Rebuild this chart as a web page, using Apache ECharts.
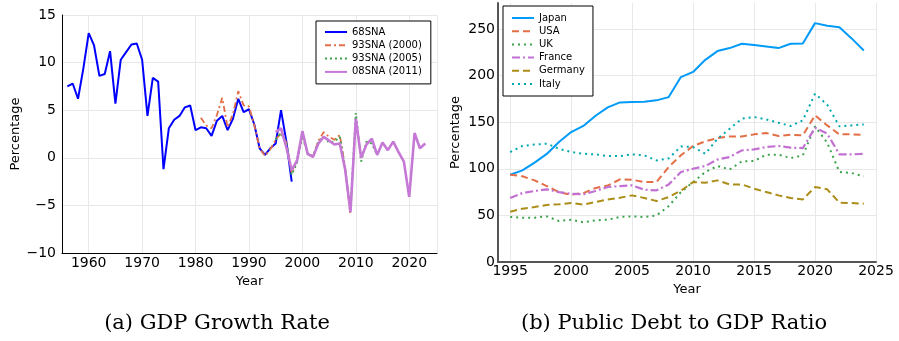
<!DOCTYPE html>
<html>
<head>
<meta charset="utf-8">
<script src="https://cdn.jsdelivr.net/npm/echarts@6/dist/echarts.min.js"></script>
<style>
html,body{margin:0;padding:0;background:#fff;}
#c{width:899px;height:341px;}
</style>
</head>
<body>
<div id="c"></div>
<script>
// ---- Left chart: GDP growth rate (%) ----
const gdpStart = { sna68: 1956, sna93a: 1981, sna93b: 1995, sna08: 1995 };
const sna68 = [7.5, 7.8, 6.2, 9.4, 13.1, 11.8, 8.6, 8.8, 11.2, 5.7, 10.3, 11.1, 11.9, 12.0, 10.3, 4.4, 8.4, 8.0, -1.2, 3.1, 4.0, 4.4, 5.3, 5.5, 2.9, 3.2, 3.1, 2.3, 3.9, 4.4, 2.9, 4.1, 6.2, 4.8, 5.1, 3.5, 1.0, 0.3, 1.0, 1.5, 5.0, 1.7, -2.5];
const sna93a = [4.2, 3.4, 3.1, 4.5, 6.3, 3.2, 4.6, 7.0, 5.5, 5.4, 3.4, 1.0, 0.2, 0.9, 1.9, 2.6, 1.6, -1.6, -0.2, 2.6, 0.4, 0.1, 1.8, 2.7, 2.2, 1.9, 2.4, -1.0, -6.1];
const sna93b = [1.9, 2.6, 1.6, -1.8, -0.5, 2.3, 0.4, 0.2, 1.7, 2.2, 1.6, 1.7, 2.2, -1.1, -5.5, 4.7, -0.4, 1.7, 1.5, 0.3];
const sna08 = [2.7, 3.1, 1.1, -1.3, -0.3, 2.8, 0.4, 0.1, 1.5, 2.2, 1.8, 1.4, 1.5, -1.2, -5.7, 4.1, 0.0, 1.4, 2.0, 0.3, 1.6, 0.8, 1.7, 0.6, -0.4, -4.1, 2.6, 1.0, 1.5];
const gdpNames = ['68SNA', '93SNA (2000)', '93SNA (2005)', '08SNA (2011)'];

// ---- Right chart: public debt to GDP ratio (%) ----
const debtStart = 1995;
const japan = [93.7, 98.4, 106.6, 116, 128.8, 139.5, 146, 157, 166, 171.3, 171.7, 172, 173.5, 177, 198.5, 204, 217, 226.4, 229.6, 234.3, 233, 231.4, 229.6, 234.3, 234.6, 256.4, 253.6, 252, 240, 227];
const usa = [93.7, 92, 87.6, 81.5, 75, 72.2, 74, 79.4, 82, 88.7, 88.3, 85.8, 85.8, 102, 114.5, 124.5, 129.5, 133, 134.8, 134.8, 137, 138.4, 135.2, 136.6, 136, 157.4, 146.6, 137, 137, 136.3];
const uk = [48.3, 47.6, 47.6, 49, 44, 45.4, 42.6, 44.7, 45.4, 48.3, 49, 48.3, 50, 60, 75, 85.8, 96.6, 103, 99.4, 108, 108.4, 115.2, 115.2, 111.6, 114.4, 145.6, 128, 96.6, 95.5, 92];
const france = [68.7, 74, 76.2, 78, 75, 73.3, 72.6, 76.2, 80.5, 81.5, 82.3, 77.6, 76.9, 83.3, 96.6, 100.1, 103, 110, 112.7, 119.8, 120.9, 123.4, 124.5, 122.7, 122.3, 144.1, 137.7, 115.5, 115.5, 116.2];
const germany = [54, 57.2, 59, 61.2, 61.9, 63.3, 61.5, 64.4, 67.2, 69, 71.5, 68.7, 65.5, 69.7, 76.5, 85.8, 85.1, 87.6, 83.3, 83.3, 78.7, 75.1, 71.5, 68.7, 67.2, 80.5, 78, 63.7, 63.3, 62.6];
const italy = [118, 124.5, 126, 127, 121.6, 118, 116.2, 115.5, 113.7, 113.7, 115.5, 114.4, 109, 111.2, 124, 123.4, 116.2, 132.3, 143, 153.8, 155.6, 153, 149.5, 146, 152, 180.6, 168.8, 145.6, 146.6, 147.7];
const debtNames = ['Japan', 'USA', 'UK', 'France', 'Germany', 'Italy'];

const captions = ['(a) GDP Growth Rate', '(b) Public Debt to GDP Ratio'];

function pairs(start, arr) { return arr.map((v, i) => [start + i, v]); }

const FONT = 'DejaVu Sans';
const chart = echarts.init(document.getElementById('c'), null, { renderer: 'canvas' });

function line(name, data, xi, color, width, type) {
  return {
    name, type: 'line', xAxisIndex: xi, yAxisIndex: xi, data,
    symbol: 'none', smooth: false, animation: false,
    lineStyle: { color, width, type }, itemStyle: { color }
  };
}

const splitLine = { show: true, lineStyle: { color: '#e8e8e8', width: 1 } };

const legendBase = {
  orient: 'vertical', itemWidth: 22, itemHeight: 12,
  borderColor: '#000', borderWidth: 1, backgroundColor: '#fff',
  itemStyle: { opacity: 0 },
  textStyle: { fontFamily: FONT, fontSize: 10, color: '#000' }
};

chart.setOption({
  animation: false,
  grid: [
    { left: 62, top: 15, right: 462, bottom: 88 },
    { left: 498, top: 3, right: 23, bottom: 79 }
  ],
  xAxis: [
    { type: 'value', gridIndex: 0, min: 1955, max: 2025.2, splitNumber: 7,
      name: 'Year', nameLocation: 'middle', nameGap: 21,
      nameTextStyle: { fontFamily: FONT, fontSize: 13, color: '#000' },
      axisLine: { show: true, onZero: false, lineStyle: { color: '#000', width: 1 } },
      axisTick: { show: false },
      axisLabel: { fontFamily: FONT, fontSize: 14, color: '#000', margin: 3,
        formatter: v => (v % 10 === 0 ? String(v) : ''), showMinLabel: false, showMaxLabel: false },
      splitLine },
    { type: 'value', gridIndex: 1, min: 1994, max: 2025, splitNumber: 6,
      name: 'Year', nameLocation: 'middle', nameGap: 21,
      nameTextStyle: { fontFamily: FONT, fontSize: 13, color: '#000' },
      axisLine: { show: true, onZero: false, lineStyle: { color: '#555', width: 2 } },
      axisTick: { show: false },
      axisLabel: { fontFamily: FONT, fontSize: 14, color: '#000', margin: 2,
        formatter: v => (v % 5 === 0 ? String(v) : ''), showMinLabel: false },
      splitLine }
  ],
  yAxis: [
    { type: 'value', gridIndex: 0, min: -10, max: 15, interval: 5,
      name: 'Percentage', nameLocation: 'middle', nameGap: 40,
      nameTextStyle: { fontFamily: FONT, fontSize: 13, color: '#000' },
      axisLine: { show: true, onZero: false, lineStyle: { color: '#000', width: 1 } },
      axisTick: { show: false },
      axisLabel: { fontFamily: FONT, fontSize: 14, color: '#000', margin: 6,
        formatter: v => (v < 0 ? '\u2212' + Math.abs(v) : String(v)) },
      splitLine },
    { type: 'value', gridIndex: 1, min: 0, max: 278, interval: 50,
      name: 'Percentage', nameLocation: 'middle', nameGap: 36,
      nameTextStyle: { fontFamily: FONT, fontSize: 13, color: '#000' },
      axisLine: { show: true, onZero: false, lineStyle: { color: '#555', width: 2 } },
      axisTick: { show: false },
      axisLabel: { fontFamily: FONT, fontSize: 14, color: '#000', margin: 3,
        formatter: v => (v % 50 === 0 ? String(v) : ''), showMaxLabel: false },
      splitLine: { show: true, showMaxLine: false, lineStyle: { color: '#e8e8e8', width: 1 } } }
  ],
  legend: [
    Object.assign({}, legendBase, { data: gdpNames, left: 316, top: 21,
      padding: [6, 9, 7, 8], itemGap: 3.3 }),
    Object.assign({}, legendBase, { data: debtNames, left: 503, top: 6,
      padding: [7, 8, 7, 8], itemGap: 3.2 })
  ],
  series: [
    line(gdpNames[0], pairs(gdpStart.sna68, sna68), 0, '#0000ff', 2, 'solid'),
    line(gdpNames[1], pairs(gdpStart.sna93a, sna93a), 0, '#e26f46', 1.8, [6, 3, 2, 3]),
    line(gdpNames[2], pairs(gdpStart.sna93b, sna93b), 0, '#3da44d', 2, [2, 3]),
    line(gdpNames[3], pairs(gdpStart.sna08, sna08), 0, '#c678d6', 2.6, 'solid'),
    line(debtNames[0], pairs(debtStart, japan), 1, '#009af9', 2, 'solid'),
    line(debtNames[1], pairs(debtStart, usa), 1, '#e26f46', 2, [7, 4]),
    line(debtNames[2], pairs(debtStart, uk), 1, '#3da44d', 2, [2, 4]),
    line(debtNames[3], pairs(debtStart, france), 1, '#c271d2', 2.2, [8, 3, 2, 3]),
    line(debtNames[4], pairs(debtStart, germany), 1, '#ac8d18', 2, [7, 4]),
    line(debtNames[5], pairs(debtStart, italy), 1, '#00a9ad', 2, [2, 4])
  ],
  graphic: [
    { type: 'text', x: 217, y: 324, style: { text: captions[0], fill: '#000',
      font: '21px "DejaVu Serif"', textAlign: 'center', textVerticalAlign: 'middle' } },
    { type: 'text', x: 674, y: 324, style: { text: captions[1], fill: '#000',
      font: '21px "DejaVu Serif"', textAlign: 'center', textVerticalAlign: 'middle' } }
  ]
});
</script>
</body>
</html>
